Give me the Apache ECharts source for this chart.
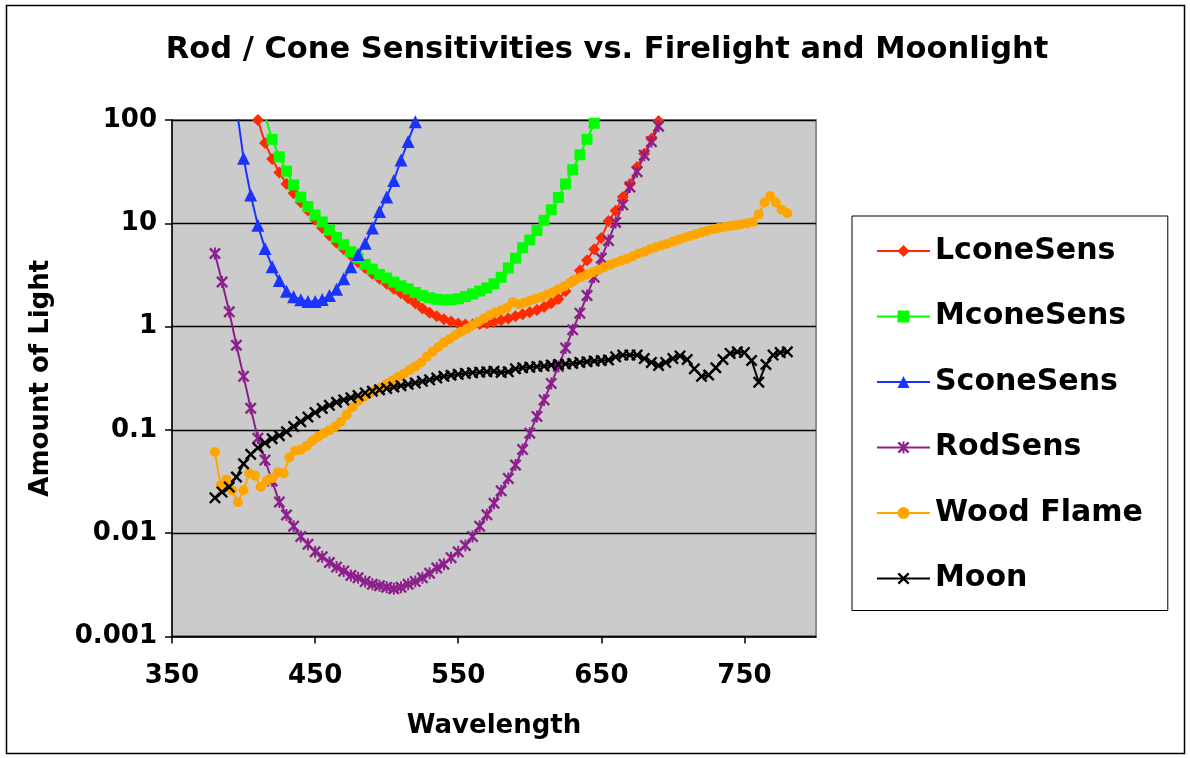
<!DOCTYPE html>
<html>
<head>
<meta charset="utf-8">
<script src="https://cdn.jsdelivr.net/npm/echarts@6/dist/echarts.min.js"></script>
<style>
html,body{margin:0;padding:0;background:#fff;}
#chart{width:1190px;height:758px;}
</style>
</head>
<body>
<div id="chart"></div>
<script>
// Wavelength grid (nm), 5 nm steps, used by the cone, rod and moon series
const wl5 = [380,385,390,395,400,405,410,415,420,425,430,435,440,445,450,455,460,465,470,475,
480,485,490,495,500,505,510,515,520,525,530,535,540,545,550,555,560,565,570,575,
580,585,590,595,600,605,610,615,620,625,630,635,640,645,650,655,660,665,670,675,
680,685,690,695,700,705,710,715,720,725,730,735,740,745,750,755,760,765,770,775,780];

// Wavelength grid (nm), 4 nm steps, used by the wood flame series
const wl4 = [380,384,388,392,396,400,404,408,412,416,420,424,428,432,436,440,444,448,452,456,
460,464,468,472,476,480,484,488,492,496,500,504,508,512,516,520,524,528,532,536,
540,544,548,552,556,560,564,568,572,576,580,584,588,592,596,600,604,608,612,616,
620,624,628,632,636,640,644,648,652,656,660,664,668,672,676,680,684,688,692,696,
700,704,708,712,716,720,724,728,732,736,740,744,748,752,756,760,764,768,772,776,780];

const seriesNames = ['LconeSens','MconeSens','SconeSens','RodSens','Wood Flame','Moon'];

// LconeSens on wl5 (null = no point)
const lconeSens = [null,null,null,null,null,null,
100,60,42,31,24,19.5,16,13.3,10.8,9.0,7.6,6.5,5.6,4.9,
4.2,3.7,3.25,2.9,2.6,2.33,2.1,1.88,1.68,1.5,1.36,1.26,1.18,1.12,1.07,1.05,1.05,1.06,1.08,1.11,
1.15,1.2,1.26,1.32,1.38,1.45,1.55,1.68,1.85,2.2,2.75,3.5,4.4,5.6,7.2,10.5,13.2,18,24,35,
47,66,98,140,
null,null,null,null,null,null,null,null,null,null,null,null,null,null,null,null,null];

// MconeSens on wl5
const mconeSens = [null,null,null,null,null,null,null,
110,65,44,32,23.5,17.9,14.5,12,10.3,8.6,7.3,6.2,5.3,
4.6,4.0,3.6,3.2,2.95,2.7,2.48,2.32,2.14,2.0,1.9,1.84,1.81,1.82,1.86,1.95,2.07,2.21,2.37,2.6,
3.0,3.7,4.6,5.8,6.9,8.5,10.7,13.5,17.8,24,33,46,65,93,130,
null,null,null,null,null,null,null,null,null,null,null,null,null,null,null,null,null,null,null,null,null,null,null,null,null,null];

// SconeSens on wl5
const sconeSens = [null,null,null,
135,42.6,18.8,9.6,5.7,3.8,2.8,2.2,1.95,1.82,1.75,1.75,1.83,2.0,2.3,2.9,3.8,
5.0,6.4,9.0,13,18,26,41,62,96,150,
null,null,null,null,null,null,null,null,null,null,null,null,null,null,null,null,null,null,null,null,
null,null,null,null,null,null,null,null,null,null,null,null,null,null,null,null,null,null,null,null,
null,null,null,null,null,null,null,null,null,null,null];

// RodSens on wl5
const rodSens = [5.1,2.7,1.39,0.66,0.33,0.162,0.083,0.051,0.032,0.020,
0.015,0.0117,0.0093,0.0078,0.0066,0.0059,0.0052,0.0047,0.0043,0.0039,
0.0037,0.0034,0.0032,0.0031,0.0030,0.0029,0.0030,0.0032,0.0034,0.0037,
0.0041,0.0046,0.0050,0.0058,0.0066,0.0076,0.0093,0.0117,0.0151,0.0195,
0.0257,0.0339,0.0457,0.0646,0.093,0.135,0.195,0.282,0.41,0.62,
0.93,1.35,2.0,3.0,4.6,6.8,10.2,15.1,22.4,31.6,
45.7,61.7,87,120,
null,null,null,null,null,null,null,null,null,null,null,null,null,null,null,null,null];

// Moon on wl5
const moon = [0.022,0.025,0.028,0.035,0.047,0.058,0.067,0.075,0.082,0.088,
0.096,0.108,0.12,0.133,0.147,0.161,0.173,0.185,0.195,0.205,
0.215,0.228,0.237,0.245,0.252,0.26,0.268,0.276,0.285,0.295,
0.305,0.318,0.33,0.338,0.345,0.352,0.358,0.362,0.366,0.37,
0.36,0.365,0.39,0.40,0.405,0.41,0.415,0.425,0.43,0.435,
0.44,0.45,0.457,0.465,0.47,0.475,0.51,0.53,0.53,0.53,
0.49,0.45,0.42,0.45,0.49,0.52,0.48,0.39,0.33,0.34,
0.40,0.48,0.55,0.57,0.56,0.47,0.29,0.43,0.53,0.56,0.57];

// Wood Flame on wl4
const woodFlame = [0.061,0.029,0.033,0.026,0.020,0.026,0.038,0.036,0.028,0.032,
0.034,0.039,0.038,0.054,0.063,0.064,0.070,0.078,0.086,0.093,
0.099,0.108,0.120,0.140,0.165,0.190,0.208,0.226,0.240,0.258,
0.28,0.30,0.325,0.35,0.38,0.41,0.45,0.51,0.57,0.63,
0.70,0.76,0.83,0.89,0.95,1.03,1.11,1.20,1.29,1.37,
1.44,1.52,1.72,1.65,1.70,1.78,1.86,1.93,2.03,2.15,
2.3,2.45,2.65,2.85,3.0,3.2,3.35,3.55,3.75,3.95,
4.15,4.35,4.55,4.8,5.1,5.3,5.6,5.85,6.1,6.35,
6.65,6.95,7.25,7.55,7.85,8.15,8.45,8.75,9.0,9.2,
9.4,9.6,9.8,10.0,10.3,12.2,15.9,18.4,15.9,13.5,12.5];

const xTicks = [350,450,550,650,750];

function pairs(xs, ys){
  const out = [];
  for (let i = 0; i < xs.length; i++) {
    if (ys[i] !== null && ys[i] !== undefined) out.push([xs[i], ys[i]]);
  }
  return out;
}

const FONT = '"DejaVu Sans", Verdana, sans-serif';
const xPath = 'path://M0,1.4L1.4,0L5,3.6L8.6,0L10,1.4L6.4,5L10,8.6L8.6,10L5,6.4L1.4,10L0,8.6L3.6,5Z';
const starPath = 'path://M0,1.4L1.4,0L5,3.6L8.6,0L10,1.4L6.4,5L10,8.6L8.6,10L5,6.4L1.4,10L0,8.6L3.6,5Z M4.2,0L5.8,0L5.8,10L4.2,10Z';

function mk(name, data, color, symbol, size){
  return {
    type: 'line', name: name, data: data,
    symbol: symbol, symbolSize: size, showAllSymbol: true,
    clip: true, connectNulls: false, smooth: false,
    lineStyle: {color: color, width: 2},
    itemStyle: {color: color, borderWidth: 0},
    emphasis: {disabled: true},
    animation: false
  };
}

const chart = echarts.init(document.getElementById('chart'), null, {renderer: 'canvas'});
chart.setOption({
  backgroundColor: '#ffffff',
  animation: false,
  title: {
    text: 'Rod / Cone Sensitivities vs. Firelight and Moonlight',
    left: 602, top: 30, textAlign: 'center',
    textStyle: {fontFamily: FONT, fontSize: 30.5, fontWeight: 'bold', color: '#000'}
  },
  graphic: [{
    type: 'rect', silent: true, z: -10,
    shape: {x: 6.5, y: 5.5, width: 1178, height: 748},
    style: {fill: 'none', stroke: '#000', lineWidth: 1.5}
  }],
  legend: {
    orient: 'vertical', left: 852, top: 216,
    padding: [20, 25, 17, 24],
    itemGap: 35.5, itemWidth: 53, itemHeight: 15,
    backgroundColor: '#fff', borderColor: '#000', borderWidth: 1,
    textStyle: {fontFamily: FONT, fontSize: 30, fontWeight: 'bold', color: '#000', lineHeight: 30},
    data: seriesNames,
    selectedMode: false
  },
  grid: {
    left: 172, top: 120, right: 374, bottom: 121.5,
    show: true, backgroundColor: '#cbcbcb', borderColor: '#8c8c8c', borderWidth: 2,
    containLabel: false
  },
  xAxis: {
    type: 'value', min: 350, max: 800, interval: 100,
    axisLine: {show: true, onZero: false, lineStyle: {color: '#000', width: 1.5}},
    axisTick: {show: true, length: 7, lineStyle: {color: '#000', width: 1.5}, customValues: xTicks},
    axisLabel: {margin: 27, fontFamily: FONT, fontSize: 26, fontWeight: 'bold', color: '#000',
      customValues: xTicks},
    splitLine: {show: false},
    name: 'Wavelength', nameLocation: 'middle', nameGap: 77,
    nameTextStyle: {fontFamily: FONT, fontSize: 26, fontWeight: 'bold', color: '#000'}
  },
  yAxis: {
    type: 'log', logBase: 10, min: 0.001, max: 100,
    axisLine: {show: true, lineStyle: {color: '#000', width: 1.5}},
    axisTick: {show: true, length: 7, lineStyle: {color: '#000', width: 1.5}},
    axisLabel: {margin: 15, fontFamily: FONT, fontSize: 26, fontWeight: 'bold', color: '#000',
      formatter: function(v){ return String(Number(Number(v).toPrecision(2))); }},
    splitLine: {show: true, lineStyle: {color: '#000', width: 1.3}},
    name: 'Amount of Light', nameLocation: 'middle', nameGap: 118,
    nameTextStyle: {fontFamily: FONT, fontSize: 26, fontWeight: 'bold', color: '#000'}
  },
  series: [
    mk(seriesNames[0], pairs(wl5, lconeSens), '#ff2a00', 'diamond', 12),
    mk(seriesNames[1], pairs(wl5, mconeSens), '#00ff00', 'rect', 11),
    mk(seriesNames[2], pairs(wl5, sconeSens), '#1a33ff', 'triangle', 13),
    mk(seriesNames[3], pairs(wl5, rodSens), '#8c1f8c', starPath, 12),
    mk(seriesNames[4], pairs(wl4, woodFlame), '#ffa500', 'circle', 10),
    mk(seriesNames[5], pairs(wl5, moon), '#000000', xPath, 12)
  ]
});
</script>
</body>
</html>
